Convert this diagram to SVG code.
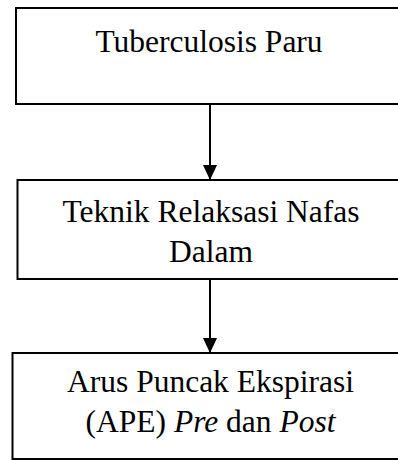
<svg xmlns="http://www.w3.org/2000/svg" width="398" height="460" viewBox="0 0 398 460">
<defs>
<style>
.box{fill:#fff;stroke:#000;stroke-width:2}
.t{font-family:"Liberation Serif","Times New Roman",serif;font-size:31.5px;fill:#000;text-anchor:middle}
.c{stroke:#000;stroke-width:2;fill:none}
</style>
<marker id="ah" markerWidth="15" markerHeight="14" refX="15" refY="7" orient="auto" markerUnits="userSpaceOnUse">
<path d="M0,0 L15,7 L0,14 Z" fill="#000"/>
</marker>
</defs>
<rect width="398" height="460" fill="#fff"/>
<g id="node1">
<rect class="box" x="16" y="8" width="400" height="96"/>
<text class="t" x="209" y="51.5">Tuberculosis Paru</text>
</g>
<g id="node2">
<rect class="box" x="17.5" y="180" width="400" height="99"/>
<text class="t" x="211" y="221.5">Teknik Relaksasi Nafas</text>
<text class="t" x="211" y="261.5">Dalam</text>
</g>
<g id="node3">
<rect class="box" x="12.5" y="353" width="400" height="106"/>
<text class="t" x="210.5" y="391.5">Arus Puncak Ekspirasi</text>
<text class="t" x="210.5" y="431.5">(APE) <tspan font-style="italic">Pre</tspan> dan <tspan font-style="italic">Post</tspan></text>
</g>
<g id="connectors">
<line class="c" x1="210" y1="105" x2="210" y2="180" marker-end="url(#ah)"/>
<line class="c" x1="210" y1="280" x2="210" y2="353" marker-end="url(#ah)"/>
</g>
</svg>
